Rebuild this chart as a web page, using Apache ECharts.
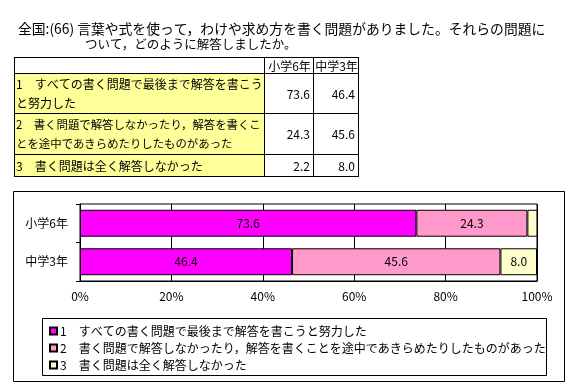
<!DOCTYPE html>
<html><head><meta charset="utf-8">
<script src="https://cdn.jsdelivr.net/npm/echarts@6/dist/echarts.min.js"></script>
<style>html,body{margin:0;padding:0;background:#fff;}#c{width:566px;height:385px;}</style>
</head><body><div id="c"></div>
<script>
const titleLines = ['全国:(66) 言葉や式を使って，わけや求め方を書く問題がありました。それらの問題に', 'ついて，どのように解答しましたか。'];
const categories = ['小学6年', '中学3年'];
const seriesNames = [
  '1　すべての書く問題で最後まで解答を書こうと努力した',
  '2　書く問題で解答しなかったり，解答を書くことを途中であきらめたりしたものがあった',
  '3　書く問題は全く解答しなかった'
];
const tableLabelLines = [
  ['1　すべての書く問題で最後まで解答を書こう', 'と努力した'],
  ['2　書く問題で解答しなかったり，解答を書くこ', 'とを途中であきらめたりしたものがあった'],
  ['3　書く問題は全く解答しなかった']
];
const values = [
  [73.6, 46.4],
  [24.3, 45.6],
  [2.2, 8.0]
];
const colors = ['#FF00FF', '#FF99CC', '#FFFFCC'];
const xTicks = [0, 20, 40, 60, 80, 100];

const FONT = '"Noto Sans CJK JP", sans-serif';
const chart = echarts.init(document.getElementById('c'), null, {renderer: 'canvas'});

// table geometry
const tX = [14, 264, 313, 358];
const tY = [57, 73, 113, 154, 176];
const g = [];
g.push({type: 'text', x: 18, y: 29, style: {text: titleLines[0], font: '13.8px ' + FONT, fill: '#000', verticalAlign: 'middle'}});
g.push({type: 'text', x: 85, y: 44, style: {text: titleLines[1], font: '12.5px ' + FONT, fill: '#000', verticalAlign: 'middle'}});
for (let r = 0; r < 3; r++) {
  g.push({type: 'rect', shape: {x: tX[0], y: tY[r + 1], width: tX[1] - tX[0], height: tY[r + 2] - tY[r + 1]}, style: {fill: '#FFFF99'}});
}
for (const x of tX) g.push({type: 'line', shape: {x1: x + 0.5, y1: tY[0], x2: x + 0.5, y2: tY[4] + 1}, style: {stroke: '#000', lineWidth: 1}});
for (const y of tY) g.push({type: 'line', shape: {x1: tX[0], y1: y + 0.5, x2: tX[3] + 1, y2: y + 0.5}, style: {stroke: '#000', lineWidth: 1}});
categories.forEach((c, i) => {
  g.push({type: 'text', x: (tX[i + 1] + tX[i + 2]) / 2 + 1, y: (tY[0] + tY[1]) / 2 + 1, style: {text: c, font: '12px ' + FONT, fill: '#000', align: 'center', verticalAlign: 'middle'}});
});
const labelFonts = ['12px ', '11.4px ', '12px '];
tableLabelLines.forEach((lines, r) => {
  g.push({type: 'text', x: tX[0] + 2, y: (tY[r + 1] + tY[r + 2]) / 2 + 1, style: {text: lines.join('\n'), font: labelFonts[r] + FONT, lineHeight: 19, fill: '#000', align: 'left', verticalAlign: 'middle'}});
  values[r].forEach((v, i) => {
    g.push({type: 'text', x: tX[i + 2] - 3, y: (tY[r + 1] + tY[r + 2]) / 2 + 1, style: {text: v.toFixed(1), font: '12px ' + FONT, fill: '#000', align: 'right', verticalAlign: 'middle'}});
  });
});
// chart frame & legend box
g.push({type: 'rect', shape: {x: 13.5, y: 191.5, width: 551, height: 190}, style: {fill: 'none', stroke: '#000', lineWidth: 1}, z: -1});
g.push({type: 'rect', shape: {x: 42.5, y: 318.5, width: 504, height: 57}, style: {fill: 'none', stroke: '#000', lineWidth: 1}});

chart.setOption({
  animation: false,
  textStyle: {fontFamily: FONT},
  graphic: g,
  grid: {left: 80, right: 29, top: 204, bottom: 104, show: true, borderColor: '#000', borderWidth: 1, containLabel: false},
  xAxis: {
    type: 'value', min: 0, max: 100, interval: 20,
    axisLine: {show: true, lineStyle: {color: '#000'}},
    axisTick: {show: false},
    splitLine: {show: true, lineStyle: {color: '#000', width: 1}},
    axisLabel: {formatter: v => xTicks.includes(v) ? v + '%' : '', color: '#000', fontSize: 12, margin: 9, fontFamily: FONT}
  },
  yAxis: {
    type: 'category', data: categories, inverse: true,
    axisLine: {show: true, lineStyle: {color: '#000'}},
    axisTick: {show: true, length: 4, lineStyle: {color: '#000'}},
    axisLabel: {color: '#000', fontSize: 12, margin: 12, fontFamily: FONT}
  },
  legend: {
    orient: 'vertical', left: 44, top: 320, itemWidth: 7, itemHeight: 7, itemGap: 5, icon: 'rect',
    textStyle: {color: '#000', fontSize: 12, fontFamily: FONT, padding: [0, 0, 0, -2]},
    data: seriesNames
  },
  series: seriesNames.map((name, k) => ({
    name, type: 'bar', stack: 'all', data: values[k], barCategoryGap: '30%',
    itemStyle: {color: colors[k], borderColor: '#000', borderWidth: 1},
    label: {show: true, position: 'inside', color: '#000', fontSize: 12, fontFamily: FONT,
      formatter: p => p.value >= 5 ? p.value.toFixed(1) : ''}
  }))
});
</script></body></html>
